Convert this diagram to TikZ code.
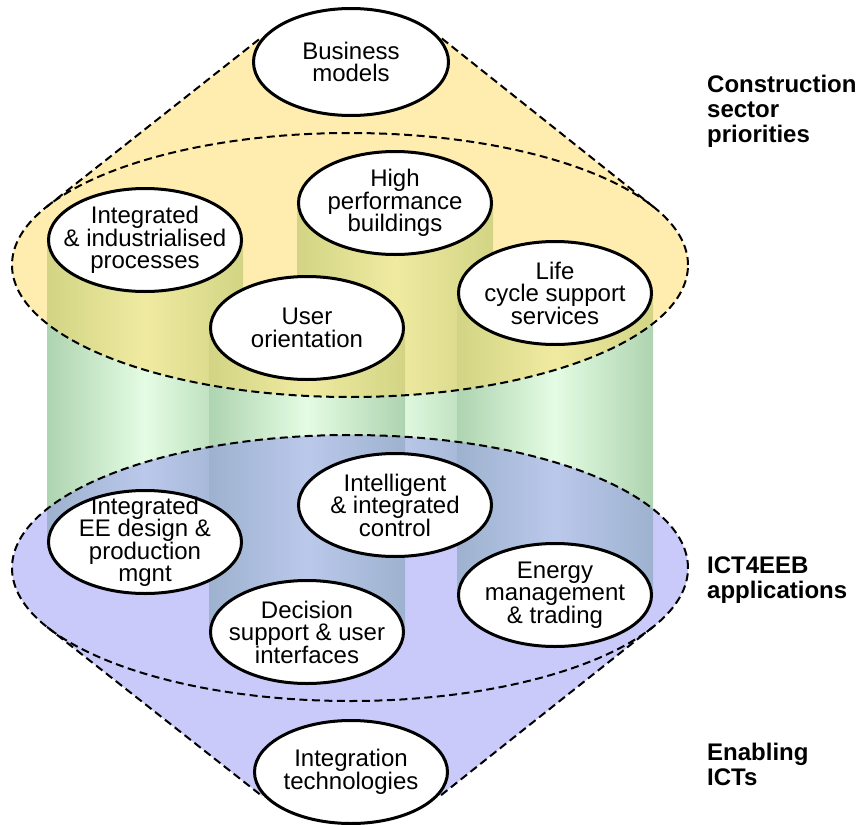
\documentclass[tikz,border=0pt]{standalone}
\usepackage{fontspec}
\setmainfont{Liberation Sans}
\usetikzlibrary{shapes.geometric, calc, positioning, backgrounds}

\definecolor{pillardark}{RGB}{174,212,176}
\definecolor{pillarlight}{RGB}{228,252,228}
\definecolor{sectoryellow}{RGB}{255,214,80}
\definecolor{appblue}{RGB}{138,138,245}

\tikzset{
  topic/.style = {ellipse, draw, line width=3pt, fill=white,
    minimum width=193pt, minimum height=103pt, inner sep=-30pt,
    align=center, font=\fontsize{24}{22.5}\selectfont},
  pillar/.style = {left color=pillardark, right color=pillardark, middle color=pillarlight},
  sectorzone/.style = {fill=sectoryellow, fill opacity=0.45},
  appzone/.style = {fill=appblue, fill opacity=0.45},
  zoneline/.style = {line width=2pt, dash pattern=on 8pt off 4.5pt},
  tierlabel/.style = {anchor=north west, inner sep=0pt, align=left,
    font=\fontsize{24}{25}\selectfont\bfseries}
}

\begin{document}
\begin{tikzpicture}[x=1pt, y=1pt]
  \useasboundingbox (0,0) rectangle (863,-825);

  \coordinate (sector) at (350,-265);
  \coordinate (apps) at (350,-568);

  % construction sector priorities
  \node[topic, minimum width=195pt, minimum height=107pt] (bm) at (351,-62) {Business\\models};
  \node[topic] (hp) at (395,-203) {High\\performance\\buildings};
  \node[topic] (ii) at (145,-240) {Integrated\\\& industrialised\\processes};
  \node[topic] (lc) at (555,-293) {Life\\cycle support\\services};
  \node[topic] (uo) at (307,-328) {User\\orientation};

  % ICT4EEB applications
  \node[topic] (ic) at ($(hp)+(0,-302)$) {Intelligent\\\& integrated\\control};
  \node[topic] (ee) at ($(ii)+(0,-302)$) {Integrated\\EE design \&\\production\\mgnt};
  \node[topic] (em) at ($(lc)+(0,-302)$) {Energy\\management\\\& trading};
  \node[topic] (ds) at ($(uo)+(0,-304)$) {Decision\\support \& user\\interfaces};
  \node[topic] (it) at (351,-772) {Integration\\technologies};

  \node[tierlabel] (prio) at (707,-75) {Construction\\sector\\priorities};
  \node[tierlabel] (ict) at (707,-557) {ICT4EEB\\applications};
  \node[tierlabel] (enab) at (707,-743) {Enabling\\ICTs};

  \begin{scope}[on background layer]
    % pillars, back to front
    \shade[pillar] (hp.west) rectangle (ic.east);
    \shade[pillar] (ii.west) rectangle (ee.east);
    \shade[pillar] (lc.west) rectangle (em.east);
    \shade[pillar] (uo.west) rectangle (ds.east);

    \coordinate (tl) at ($(sector)+(153.9:338pt and 132pt)$);
    \coordinate (tr) at ($(sector)+(26.1:338pt and 132pt)$);
    \coordinate (hl) at (262,-37);
    \coordinate (hr) at (440,-37);
    \coordinate (bl) at ($(apps)+(206.3:338pt and 133pt)$);
    \coordinate (br) at ($(apps)+(-26.3:338pt and 133pt)$);
    \coordinate (ll) at (262,-796);
    \coordinate (lr) at (440,-796);

    \fill[sectorzone] (tl) arc[start angle=153.9, end angle=386.1, x radius=338pt, y radius=132pt]
      -- (hr) -- (bm.center) -- (hl) -- cycle;
    \fill[appzone] (br) arc[start angle=-26.3, end angle=206.3, x radius=338pt, y radius=133pt]
      -- (ll) -- (it.center) -- (lr) -- cycle;

    \draw[zoneline] (sector) ellipse [x radius=338pt, y radius=132pt];
    \draw[zoneline] (tl) -- (hl) (tr) -- (hr);
    \draw[zoneline] (apps) ellipse [x radius=338pt, y radius=133pt];
    \draw[zoneline] (bl) -- (ll) (br) -- (lr);
  \end{scope}
\end{tikzpicture}
\end{document}
